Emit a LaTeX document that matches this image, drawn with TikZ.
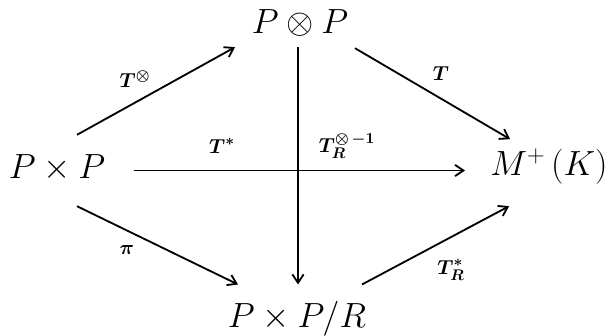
\documentclass[tikz,border=0pt]{standalone}
\usetikzlibrary{arrows.meta}

\begin{document}
\begin{tikzpicture}[
  x=0.025cm, y=-0.025cm,
  obj/.style={inner sep=0pt, anchor=base, font=\fontsize{25}{30}\selectfont},
  lab/.style={inner sep=0pt, font=\fontsize{15}{18}\selectfont\boldmath},
  map/.style={-{Straight Barb[length=6pt, width=8pt]}, line width=1.3pt}
]
\useasboundingbox (0,0) rectangle (608,336);

% the four objects
\node[obj] (ptens) at (300,33)  {$P\otimes P$};
\node[obj] (pprod) at (57,178)  {$P\times P$};
\node[obj] (mplus) at (549,175) {$M^{+}\,(K)$};
\node[obj] (pquot) at (297,327) {$P\times P/R$};

% upper path
\draw[map] ([shift={(20,-19)}]pprod.north) -- ([shift={(-65,11)}]ptens.south);
\draw[map] ([shift={(55,12)}]ptens.south) -- ([shift={(20,-27)}]mplus.west);

% lower path
\draw[map] ([shift={(20,25)}]pprod.south) -- ([shift={(-59,-16)}]pquot.north);
\draw[map] ([shift={(65,-16)}]pquot.north) -- ([shift={(19,40)}]mplus.west);

% the two crossing maps
\draw[map] ([shift={(28,3)}]pprod.east) -- ([shift={(-25,3)}]pprod.east -| mplus.west);
\draw[map] ([shift={(-2,11)}]ptens.south) -- ([shift={(-2,-16)}]ptens.south |- pquot.north);

% labels
\node[lab] (ltens)  at (135,79)  {$T^{\otimes}$};
\node[lab] (lt)     at (441,74)  {$T$};
\node[lab] (lpi)    at (127,250) {$\pi$};
\node[lab] (ltstr)  at (451,270) {$T^{*}_{R}$};
\node[lab] (lstar)  at (222,146) {$T^{*}$};
\node[lab] (linv)   at (347,146) {$T_{R}^{\otimes\,-1}$};

\end{tikzpicture}
\end{document}
